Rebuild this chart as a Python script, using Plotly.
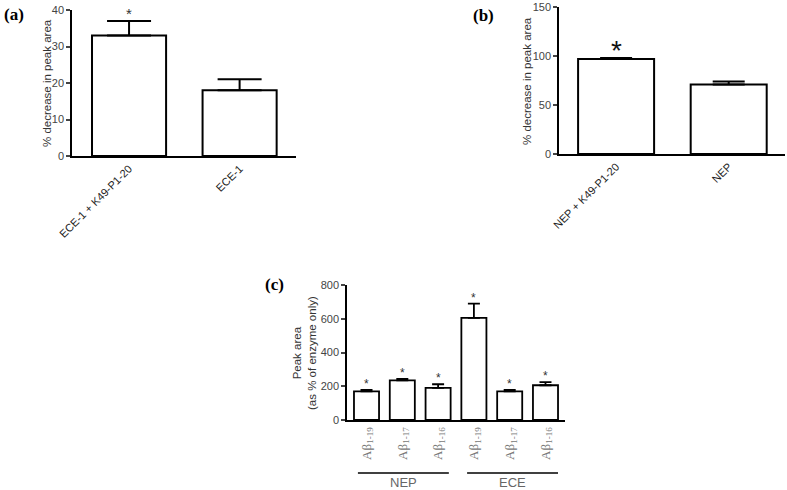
import plotly.graph_objects as go

# Panel (a)
a_cats = ["ECE-1 + K49-P1-20", "ECE-1"]
a_vals = [33, 18]
a_err = [4, 3]
a_sig = ["*", ""]

# Panel (b)
b_cats = ["NEP + K49-P1-20", "NEP"]
b_vals = [97, 71]
b_err = [1, 3]
b_sig = ["*", ""]

# Panel (c)
c_cats = ["Aβ<sub>1-19</sub>", "Aβ<sub>1-17</sub>", "Aβ<sub>1-16</sub>",
          "Aβ<sub>1-19</sub>", "Aβ<sub>1-17</sub>", "Aβ<sub>1-16</sub>"]
c_vals = [170, 235, 190, 605, 170, 206]
c_err = [8, 8, 22, 85, 8, 18]
c_sig = ["*", "*", "*", "*", "*", "*"]
c_groups = ["NEP", "ECE"]

W, H = 787, 490
def px(x): return x / W
def py(y): return 1 - y / H

fig = go.Figure()

sans = "Liberation Sans, Arial, sans-serif"
tickfont = dict(family=sans, size=11, color="#444")

def add_bars(vals, err, xa, ya, width, lw, cap):
    fig.add_trace(go.Bar(
        x=list(range(len(vals))), y=vals, width=width,
        marker=dict(color="white", line=dict(color="black", width=lw)),
        error_y=dict(type="data", array=err, arrayminus=[0]*len(err), symmetric=False,
                     color="black", thickness=lw, width=cap),
        xaxis=xa, yaxis=ya, showlegend=False, hoverinfo="skip"))

add_bars(a_vals, a_err, "x", "y", 0.67, 2, 22)
add_bars(b_vals, b_err, "x2", "y2", 0.675, 2, 16)
add_bars(c_vals, c_err, "x3", "y3", 0.7, 1.8, 6)

axcommon = dict(showgrid=False, zeroline=False, showline=True, linecolor="black", automargin=False)
catfont = dict(family=sans, size=11, color="#222")

fig.update_layout(
    width=W, height=H, margin=dict(l=0, r=0, t=0, b=0, autoexpand=False),
    plot_bgcolor="white", paper_bgcolor="white",
    xaxis=dict(domain=[px(72), px(296)], range=[-0.516, 1.51], tickmode="array",
               tickvals=[0, 1], ticktext=a_cats, tickangle=-45, ticks="", linewidth=2,
               tickfont=catfont, anchor="y", **axcommon),
    yaxis=dict(domain=[py(156), py(10)], range=[0, 40], tickmode="array", tickvals=[0, 10, 20, 30, 40],
               ticks="outside", ticklen=4, linewidth=1.5, tickwidth=1.5, tickfont=tickfont,
               anchor="x", **axcommon),
    xaxis2=dict(domain=[px(559), px(785)], range=[-0.507, 1.50], tickmode="array",
                tickvals=[0, 1], ticktext=b_cats, tickangle=-45, ticks="", linewidth=2,
                tickfont=catfont, anchor="y2", **axcommon),
    yaxis2=dict(domain=[py(154), py(7)], range=[0, 150], tickmode="array", tickvals=[0, 50, 100, 150],
                ticks="outside", ticklen=4, linewidth=1.5, tickwidth=1.5, tickfont=tickfont,
                anchor="x2", **axcommon),
    xaxis3=dict(domain=[px(347), px(565)], range=[-0.545, 5.545], tickmode="array",
                tickvals=list(range(6)), ticktext=c_cats, tickangle=-90, ticks="", linewidth=2,
                tickfont=dict(family="Liberation Serif, Times New Roman, serif", size=13, color="#777"),
                anchor="y3", **axcommon),
    yaxis3=dict(domain=[py(420), py(285)], range=[0, 800], tickmode="array", tickvals=[0, 200, 400, 600, 800],
                ticks="outside", ticklen=4, linewidth=1.5, tickwidth=1.5, tickfont=tickfont,
                anchor="x3", **axcommon),
)

anns = []
for i, (v, e, s) in enumerate(zip(a_vals, a_err, a_sig)):
    if s:
        anns.append(dict(x=i, y=v + e, xref="x", yref="y", text=s, showarrow=False,
                         xanchor="center", yanchor="bottom",
                         yshift=-3, font=dict(family=sans, size=15, color="#333")))
for i, (v, e, s) in enumerate(zip(b_vals, b_err, b_sig)):
    if s:
        anns.append(dict(x=i, y=v + e, xref="x2", yref="y2", text=s, showarrow=False,
                         xanchor="center", yanchor="bottom",
                         yshift=-10, font=dict(family=sans, size=28, color="#111")))
for i, (v, e, s) in enumerate(zip(c_vals, c_err, c_sig)):
    if s:
        anns.append(dict(x=i, y=v + e, xref="x3", yref="y3", text=s, showarrow=False,
                         xanchor="center", yanchor="bottom",
                         yshift=-3, font=dict(family=sans, size=12, color="#333")))

# axis titles
title_font = dict(family=sans, size=11.5, color="#333")
anns.append(dict(x=px(47), y=py(83), xref="paper", yref="paper", text="% decrease in peak area",
                 xanchor="center", yanchor="middle",
                 textangle=-90, showarrow=False, font=title_font))
anns.append(dict(x=px(527), y=py(81), xref="paper", yref="paper", text="% decrease in peak area",
                 xanchor="center", yanchor="middle",
                 textangle=-90, showarrow=False, font=title_font))
anns.append(dict(x=px(304), y=py(353), xref="paper", yref="paper",
                 text="Peak area<br>(as % of enzyme only)",
                 xanchor="center", yanchor="middle",
                 textangle=-90, showarrow=False, font=title_font))

# panel labels
for t, x, y in [("(a)", 14, 14), ("(b)", 483, 16), ("(c)", 274, 284)]:
    anns.append(dict(x=px(x), y=py(y), xref="paper", yref="paper", text="<b>" + t + "</b>",
                     xanchor="center", yanchor="middle", showarrow=False,
                     font=dict(family="Liberation Serif, Times New Roman, serif", size=17, color="black")))

# group labels and lines
grp_span = [(-0.24, 2.30), (2.81, 5.35)]
shapes = []
for (x0, x1), g in zip(grp_span, c_groups):
    shapes.append(dict(type="line", xref="x3", yref="paper", x0=x0, x1=x1, y0=py(473), y1=py(473),
                       line=dict(color="black", width=1.5)))
    anns.append(dict(x=(x0 + x1) / 2, y=py(482.5), xref="x3", yref="paper", text=g, showarrow=False,
                     xanchor="center", yanchor="middle",
                     font=dict(family=sans, size=13, color="#666")))

fig.update_layout(annotations=anns, shapes=shapes)
fig.write_html("out.html", config={"displayModeBar": False},
               post_script="document.body.style.margin='0';")
